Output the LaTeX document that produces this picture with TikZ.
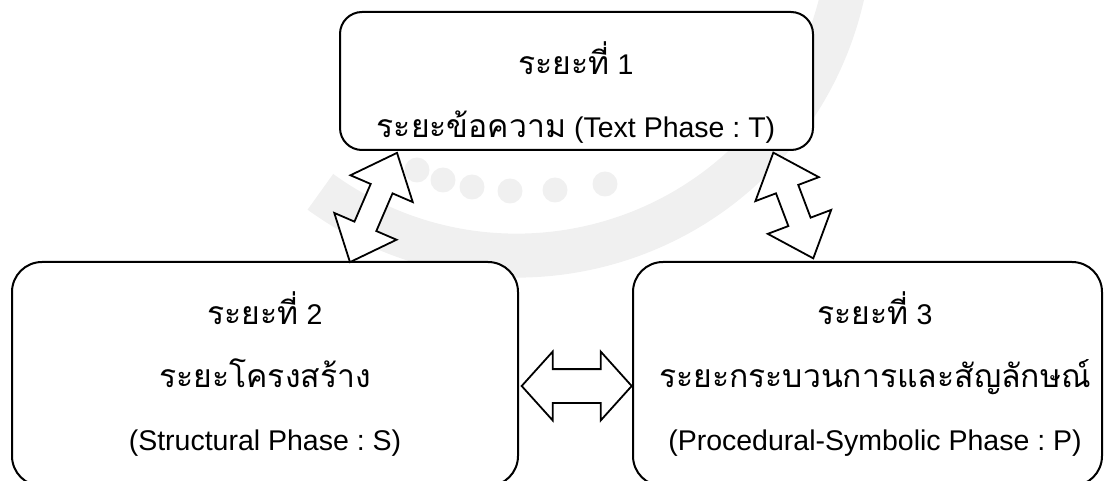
\documentclass[tikz,border=0pt]{standalone}
\usepackage{fontspec}
\setmainfont{Liberation Sans}
\newfontfamily\thaifont[Script=Thai, Scale=1.12]{Loma}
\usetikzlibrary{shapes.arrows, calc}

\newcommand{\thai}[1]{{\thaifont #1}}
\frenchspacing

\begin{document}
\begin{tikzpicture}[
    x=1pt, y=-1pt,
    phase/.style={
      rectangle,
      draw=black,
      line width=2pt,
      fill=white,
      rounded corners=30pt
    },
    phasetext/.style={
      align=center,
      inner sep=0pt,
      font=\fontsize{28.5}{63}\selectfont
    },
    link/.style={
      double arrow,
      draw=black,
      line width=1.8pt,
      fill=white,
      inner xsep=0pt,
      inner ysep=11pt,
      double arrow head extend=22pt,
      double arrow tip angle=82
    },
    seal/.style={
      draw=gray!12,
      line width=44pt
    },
    sealdot/.style={
      circle,
      fill=gray!12,
      inner sep=0pt,
      minimum size=25pt
    }
  ]

  \clip (0,0) rectangle (1104,481);

  % faint seal in the background
  \coordinate (sealc) at (516.7,-78.4);
  \draw[seal] (sealc) ++(126:334) arc (126:-10:334);
  \foreach \px/\py [count=\i] in {417/170, 443/180, 472/187, 510/191, 555/190, 605/184}
    \node[sealdot] (dot\i) at (\px,\py) {};

  % three phases
  \node[phase, minimum width=473pt, minimum height=138pt, rounded corners=22pt] (ph1) at (576.5,81) {};
  \node[phase, minimum width=506pt, minimum height=224pt] (ph2) at (265,374) {};
  \node[phase, minimum width=469pt, minimum height=224pt] (ph3) at (867.5,374) {};

  \node[phasetext] (ph1text) at (576,92.5) {\thai{ระยะที่} 1\\ \thai{ระยะข้อความ} (Text Phase : T)};
  \node[phasetext] (ph2text) at (265,374) {\thai{ระยะที่} 2\\ \thai{ระยะโครงสร้าง}\\ (Structural Phase : S)};
  \node[phasetext] (ph3text) at (875,374) {\thai{ระยะที่} 3\\ \thai{ระยะกระบวนการและสัญลักษณ์}\\ (Procedural-Symbolic Phase : P)};

  % two-way arrows between phases
  \node[link, minimum height=119pt, rotate=66.7] (ph12) at (373.5,207.5) {};
  \node[link, minimum height=113pt, rotate=110.7] (ph13) at (793.3,205.5) {};
  \node[link, minimum height=110pt, inner ysep=16pt, double arrow head extend=17.5pt, double arrow tip angle=96] (ph23) at (576.7,386) {};

\end{tikzpicture}
\end{document}
